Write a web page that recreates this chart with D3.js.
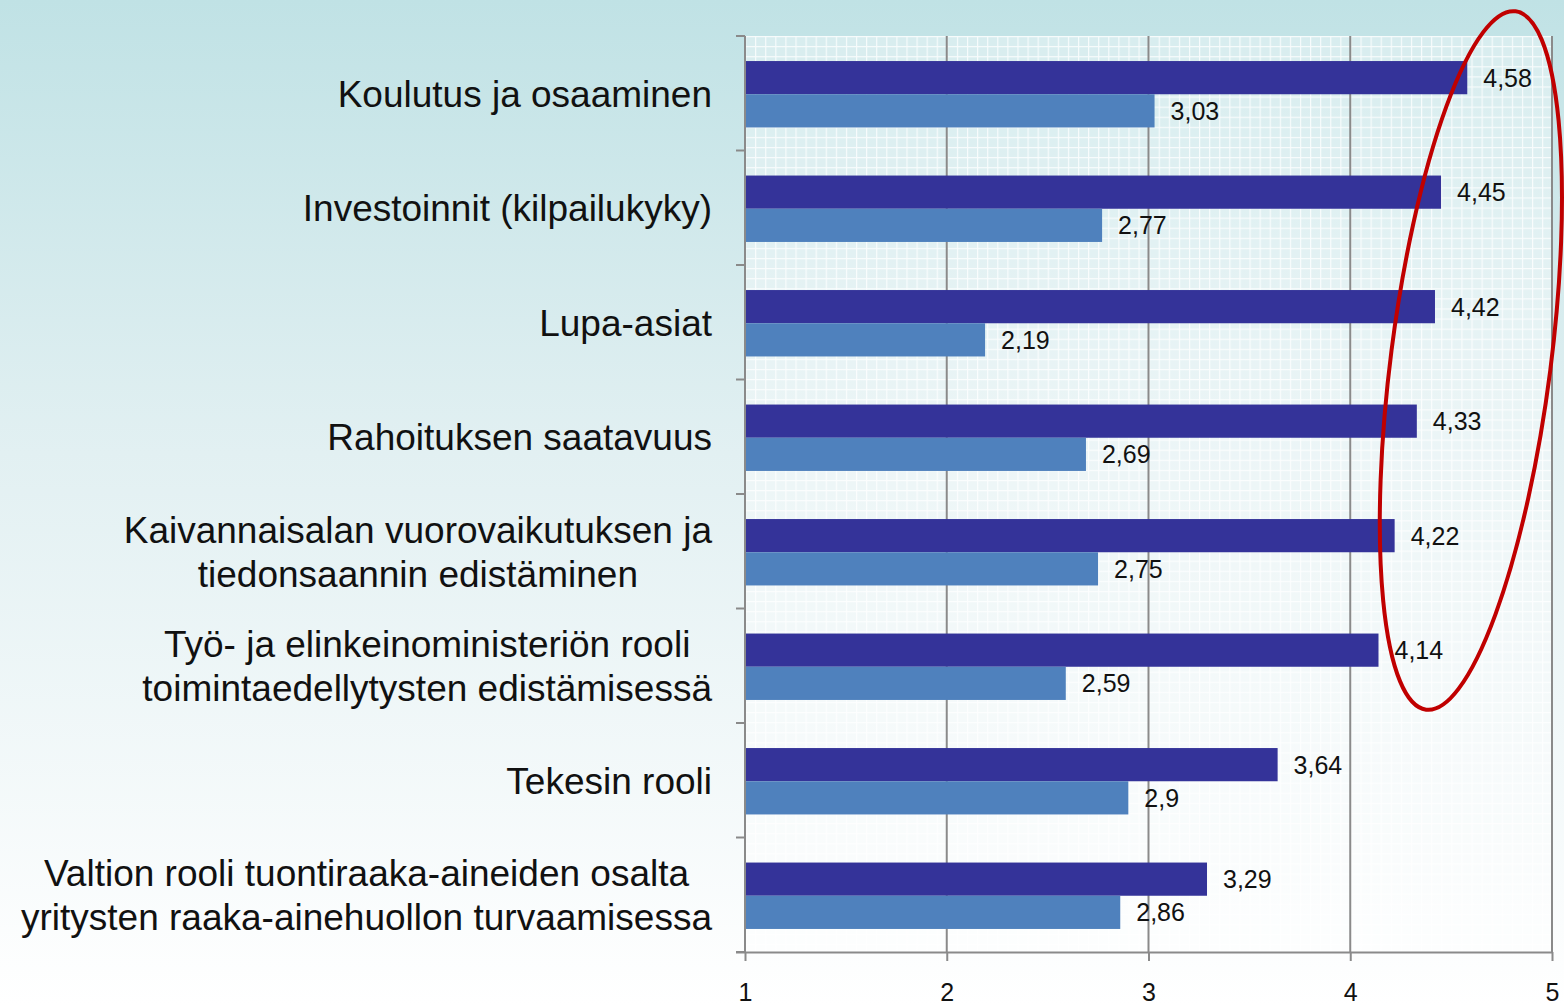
<!DOCTYPE html>
<html>
<head>
<meta charset="utf-8">
<script src="https://cdn.jsdelivr.net/npm/d3@7"></script>
<style>
  html, body { margin: 0; padding: 0; }
  body { width: 1564px; height: 1006px; overflow: hidden; font-family: "Liberation Sans", Arial, sans-serif; }
</style>
</head>
<body>
<div id="chart"></div>
<script>
// data
const categories = [
  ["Koulutus ja osaaminen"],
  ["Investoinnit (kilpailukyky)"],
  ["Lupa-asiat"],
  ["Rahoituksen saatavuus"],
  ["Kaivannaisalan vuorovaikutuksen ja", "tiedonsaannin edistäminen"],
  ["Työ- ja elinkeinoministeriön rooli", "toimintaedellytysten edistämisessä"],
  ["Tekesin rooli"],
  ["Valtion rooli tuontiraaka-aineiden osalta", "yritysten raaka-ainehuollon turvaamisessa"]
];
const seriesA = [4.58, 4.45, 4.42, 4.33, 4.22, 4.14, 3.64, 3.29];
const seriesB = [3.03, 2.77, 2.19, 2.69, 2.75, 2.59, 2.9, 2.86];
const xTicks = [1, 2, 3, 4, 5];

// config
const width = 1564;
const height = 1006;
const margin = { top: 36, right: 12, bottom: 54, left: 745 };
const colorA = "#343399";
const colorB = "#4f81bd";

const svg = d3.select("#chart").append("svg")
  .attr("width", width)
  .attr("height", height);

const defs = svg.append("defs");

// page background gradient
const bg = defs.append("linearGradient")
  .attr("id", "bgGrad").attr("x1", 0).attr("y1", 0).attr("x2", 0).attr("y2", 1);
bg.append("stop").attr("offset", "0").attr("stop-color", "#c0e2e5");
bg.append("stop").attr("offset", "0.45").attr("stop-color", "#e2f0f2");
bg.append("stop").attr("offset", "1").attr("stop-color", "#ffffff");

svg.append("rect")
  .attr("width", width).attr("height", height)
  .attr("fill", "url(#bgGrad)");

// fine grid pattern for plot area
const pat = defs.append("pattern")
  .attr("id", "gridPat")
  .attr("patternUnits", "userSpaceOnUse")
  .attr("x", margin.left).attr("y", margin.top)
  .attr("width", 10.09).attr("height", 10.09);
pat.append("rect").attr("width", 10.09).attr("height", 10.09).attr("fill", "#ffffff").attr("fill-opacity", 0.35);
pat.append("path")
  .attr("d", "M0,0.5 H10.09 M0.5,0 V10.09")
  .attr("stroke", "#ffffff").attr("stroke-width", 1.3).attr("stroke-opacity", 0.8);

// scales
const x = d3.scaleLinear()
  .domain([1, 5])
  .range([margin.left, 1552]);

const y = d3.scaleBand()
  .domain(d3.range(categories.length))
  .range([margin.top, height - margin.bottom])
  .paddingInner(0.42)
  .paddingOuter(0.21);

const sub = d3.scaleBand()
  .domain([0, 1])
  .range([0, y.bandwidth()]);

const plotTop = margin.top;
const plotBottom = height - margin.bottom;

// plot area
svg.append("rect")
  .attr("x", x(1)).attr("y", plotTop)
  .attr("width", x(5) - x(1)).attr("height", plotBottom - plotTop)
  .attr("fill", "url(#gridPat)");

// major gridlines
svg.append("g")
  .selectAll("line")
  .data(xTicks.slice(1))
  .join("line")
  .attr("x1", d => x(d)).attr("x2", d => x(d))
  .attr("y1", plotTop).attr("y2", plotBottom)
  .attr("stroke", "#8a8a8a").attr("stroke-width", 2);

// bars
const groups = svg.append("g")
  .selectAll("g")
  .data(categories.map((c, i) => ({ i, a: seriesA[i], b: seriesB[i] })))
  .join("g")
  .attr("transform", d => `translate(0,${y(d.i) + 1})`);

groups.append("rect")
  .attr("x", x(1)).attr("y", sub(0))
  .attr("width", d => x(d.a) - x(1)).attr("height", sub.bandwidth())
  .attr("fill", colorA);

groups.append("rect")
  .attr("x", x(1)).attr("y", sub(1))
  .attr("width", d => x(d.b) - x(1)).attr("height", sub.bandwidth())
  .attr("fill", colorB);

const fmt = v => String(v).replace(".", ",");

groups.append("text")
  .attr("x", d => x(d.a) + 16).attr("y", sub(0) + sub.bandwidth() / 2)
  .attr("dy", "0.36em")
  .attr("font-size", 25).attr("fill", "#111")
  .text(d => fmt(d.a));

groups.append("text")
  .attr("x", d => x(d.b) + 16).attr("y", sub(1) + sub.bandwidth() / 2)
  .attr("dy", "0.36em")
  .attr("font-size", 25).attr("fill", "#111")
  .text(d => fmt(d.b));

// axes
const yAxisG = svg.append("g");
yAxisG.append("line")
  .attr("x1", x(1)).attr("x2", x(1))
  .attr("y1", plotTop).attr("y2", plotBottom)
  .attr("stroke", "#8a8a8a").attr("stroke-width", 2);
yAxisG.selectAll("line.tick")
  .data(d3.range(categories.length + 1))
  .join("line")
  .attr("class", "tick")
  .attr("x1", x(1) - 9).attr("x2", x(1))
  .attr("y1", i => plotTop + i * (plotBottom - plotTop) / categories.length)
  .attr("y2", i => plotTop + i * (plotBottom - plotTop) / categories.length)
  .attr("stroke", "#8a8a8a").attr("stroke-width", 2);

const xAxis = d3.axisBottom(x)
  .tickValues(xTicks)
  .tickSize(9)
  .tickPadding(22)
  .tickFormat(d3.format("d"));

const xAxisG = svg.append("g")
  .attr("transform", `translate(0,${plotBottom})`)
  .call(xAxis);
xAxisG.select(".domain")
  .attr("d", `M${x(1) - 9},0.5H${x(5)}`)
  .attr("stroke", "#8a8a8a").attr("stroke-width", 2);
xAxisG.selectAll(".tick line").attr("stroke", "#8a8a8a").attr("stroke-width", 2);
xAxisG.selectAll(".tick text")
  .attr("font-size", 25)
  .attr("font-family", "'Liberation Sans', Arial, sans-serif")
  .attr("fill", "#111");

// category labels (multi-line blocks centered, block right-aligned)
const labelRight = 712;
const labelG = svg.append("g");
categories.forEach((lines, i) => {
  const cy = y(i) + y.bandwidth() / 2;
  const t = labelG.append("text")
    .attr("font-size", 37)
    .attr("fill", "#111")
    .attr("text-anchor", "middle");
  const lineH = 44;
  lines.forEach((ln, k) => {
    t.append("tspan")
      .attr("y", cy + (k - (lines.length - 1) / 2) * lineH)
      .attr("dy", "0.36em")
      .text(ln);
  });
  let maxW = 0;
  t.selectAll("tspan").each(function () {
    maxW = Math.max(maxW, this.getComputedTextLength());
  });
  t.selectAll("tspan").attr("x", labelRight - maxW / 2);
});

// red highlight ellipse
svg.append("ellipse")
  .attr("cx", 0).attr("cy", 0)
  .attr("rx", 80).attr("ry", 352)
  .attr("transform", `translate(${(x(4.58) + x(4.14)) / 2 + 48},${y(0) + (y(5) + y.bandwidth() - y(0)) / 2 - 19}) rotate(7.3)`)
  .attr("fill", "none")
  .attr("stroke", "#c00000")
  .attr("stroke-width", 4);
</script>
</body>
</html>
